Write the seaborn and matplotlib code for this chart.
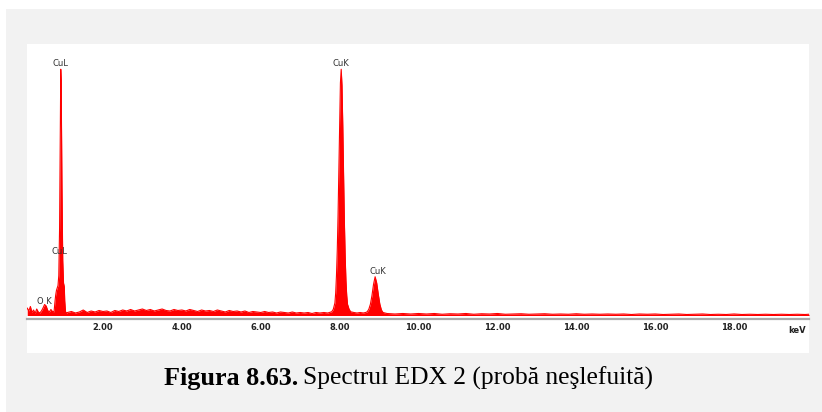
import numpy as np
import pandas as pd
import matplotlib
matplotlib.use("Agg")
import matplotlib.pyplot as plt
from matplotlib.patches import Rectangle
from matplotlib.transforms import blended_transform_factory
import seaborn as sns

# ---------------- data ----------------
# energy (keV) and counts (arbitrary units)
energy_low = [0.08, 0.12, 0.16, 0.20, 0.24, 0.28, 0.32, 0.36, 0.40, 0.44,
              0.48, 0.52, 0.56, 0.60, 0.64, 0.68, 0.72]
counts_low = [30, 18, 36, 12, 22, 8, 26, 14, 10, 18,
              30, 44, 38, 20, 14, 24, 16]

energy_cul = [0.76, 0.78, 0.80, 0.82, 0.84, 0.86, 0.88, 0.90, 0.92, 0.93,
              0.94, 0.96, 0.98, 1.00, 1.02, 1.03, 1.05, 1.08]
counts_cul = [15, 50, 80, 100, 110, 120, 160, 350, 760, 985,
              940, 520, 220, 130, 115, 60, 15, 10]

energy_mid = [1.1, 1.2, 1.3, 1.4, 1.5, 1.6, 1.7, 1.8, 1.9, 2.0,
              2.1, 2.2, 2.3, 2.4, 2.5, 2.6, 2.7, 2.8, 2.9, 3.0,
              3.1, 3.2, 3.3, 3.4, 3.5, 3.6, 3.7, 3.8, 3.9, 4.0,
              4.1, 4.2, 4.3, 4.4, 4.5, 4.6, 4.7, 4.8, 4.9, 5.0,
              5.1, 5.2, 5.3, 5.4, 5.5, 5.6, 5.7, 5.8, 5.9, 6.0,
              6.1, 6.2, 6.3, 6.4, 6.5, 6.6, 6.7, 6.8, 6.9, 7.0,
              7.1, 7.2, 7.3, 7.4, 7.5, 7.6, 7.7]
counts_mid = [12, 16, 10, 14, 22, 12, 18, 14, 20, 16,
              18, 12, 20, 16, 22, 18, 24, 18, 22, 26,
              20, 24, 18, 22, 26, 20, 18, 24, 20, 22,
              18, 24, 20, 16, 22, 18, 20, 16, 22, 18,
              14, 20, 16, 18, 14, 18, 12, 16, 14, 12,
              16, 12, 14, 10, 14, 12, 10, 14, 10, 12,
              10, 12, 8, 12, 10, 12, 10]

energy_cuka = [7.80, 7.84, 7.88, 7.90, 7.92, 7.94, 7.96, 7.98, 8.00, 8.02,
               8.04, 8.06, 8.08, 8.10, 8.12, 8.14, 8.16, 8.18, 8.20, 8.24,
               8.28]
counts_cuka = [15, 25, 50, 90, 160, 260, 400, 580, 780, 930,
               985, 920, 760, 560, 380, 240, 140, 80, 45, 25,
               15]

energy_gap = [8.36, 8.44, 8.52, 8.60, 8.66]
counts_gap = [12, 10, 12, 10, 12]

energy_cukb = [8.70, 8.74, 8.78, 8.82, 8.86, 8.90, 8.94, 8.98, 9.02, 9.06, 9.10]
counts_cukb = [15, 25, 45, 80, 125, 155, 130, 85, 45, 22, 12]

energy_high = [9.2, 9.4, 9.6, 9.8, 10.0, 10.2, 10.4, 10.6, 10.8, 11.0,
               11.2, 11.4, 11.6, 11.8, 12.0, 12.2, 12.4, 12.6, 12.8, 13.0,
               13.2, 13.4, 13.6, 13.8, 14.0, 14.2, 14.4, 14.6, 14.8, 15.0,
               15.2, 15.4, 15.6, 15.8, 16.0, 16.2, 16.4, 16.6, 16.8, 17.0,
               17.2, 17.4, 17.6, 17.8, 18.0, 18.2, 18.4, 18.6, 18.8, 19.0,
               19.2, 19.4, 19.6, 19.8, 19.9]
counts_high = [8, 6, 8, 6, 8, 6, 8, 5, 7, 6,
               8, 5, 7, 6, 8, 5, 6, 7, 5, 6,
               7, 5, 6, 5, 7, 5, 6, 5, 6, 5,
               6, 4, 6, 5, 6, 4, 5, 6, 4, 5,
               6, 4, 5, 4, 6, 4, 5, 4, 5, 4,
               5, 4, 5, 4, 5]

peak_labels = ["O K", "CuL", "CuL", "CuK", "CuK"]
peak_label_x = [0.52, 0.93, 0.90, 8.04, 8.97]
peak_label_y = [56, 1008, 256, 1008, 176]

tick_values = [2, 4, 6, 8, 10, 12, 14, 16, 18]
tick_labels = ["2.00", "4.00", "6.00", "8.00", "10.00", "12.00", "14.00", "16.00", "18.00"]
unit_label = "keV"

caption_bold = "Figura 8.63."
caption_rest = "Spectrul EDX 2 (probă neşlefuită)"

# ---------------- figure ----------------
sns.set_style("white")
plt.rcParams["font.family"] = ["DejaVu Sans"]

W, H = 822, 412
fig = plt.figure(figsize=(W / 100, H / 100), dpi=100, facecolor="white")

# grey frame and white panel (drawn beneath the axes)
fig.patches.append(Rectangle((6 / W, 0), 1 - 6 / W, (H - 9) / H,
                             transform=fig.transFigure, facecolor="#f2f2f2",
                             edgecolor="none", zorder=-20))
fig.patches.append(Rectangle((27 / W, (H - 353) / H), (809 - 27) / W, (353 - 44) / H,
                             transform=fig.transFigure, facecolor="white",
                             edgecolor="none", zorder=-10))

ax = fig.add_axes([27 / W, (H - 319) / H, (809 - 27) / W, (319 - 44) / H])
ax.set_facecolor("none")
ax.patch.set_alpha(0)

energy = energy_low + energy_cul + energy_mid + energy_cuka + energy_gap + energy_cukb + energy_high
counts = counts_low + counts_cul + counts_mid + counts_cuka + counts_gap + counts_cukb + counts_high
df = pd.DataFrame({"energy": energy, "counts": counts})

ax.fill_between(df["energy"], 0, df["counts"], color="#ff0000", linewidth=0, zorder=2)
sns.lineplot(data=df, x="energy", y="counts", estimator=None, color="#ff0000",
             linewidth=0.8, ax=ax, zorder=3)

ax.set_xlim(0.074, 19.90)
ax.set_ylim(-14, 1086)

for s in ["top", "left", "right"]:
    ax.spines[s].set_visible(False)
ax.spines["bottom"].set_color("#a8a8a8")
ax.spines["bottom"].set_linewidth(1.6)

ax.set_xticks(tick_values)
ax.set_xticklabels(tick_labels, fontsize=6, fontweight="bold", color="#222222")
ax.tick_params(axis="x", direction="in", length=2, width=0.8, color="#888888", pad=3)
ax.set_yticks([])
ax.set_xlabel("")
ax.set_ylabel("")

trans = blended_transform_factory(ax.transData, ax.transAxes)
ax.text(19.6, -0.025, unit_label, transform=trans, fontsize=6, fontweight="bold",
        color="#222222", ha="center", va="top")

for lab, lx, ly in zip(peak_labels, peak_label_x, peak_label_y):
    ax.text(lx, ly, lab, fontsize=6, color="#333333", ha="center", va="center",
            zorder=4, clip_on=False)

fig.text(298 / W, (H - 385) / H, caption_bold, fontsize=18.8, fontweight="bold",
         family=["Liberation Serif", "DejaVu Serif"], ha="right", va="baseline",
         color="black")
fig.text(303 / W, (H - 385) / H, caption_rest, fontsize=18.4,
         family=["Liberation Serif", "DejaVu Serif"], ha="left", va="baseline",
         color="black")

fig.savefig("out.png", dpi=100, facecolor="white")
